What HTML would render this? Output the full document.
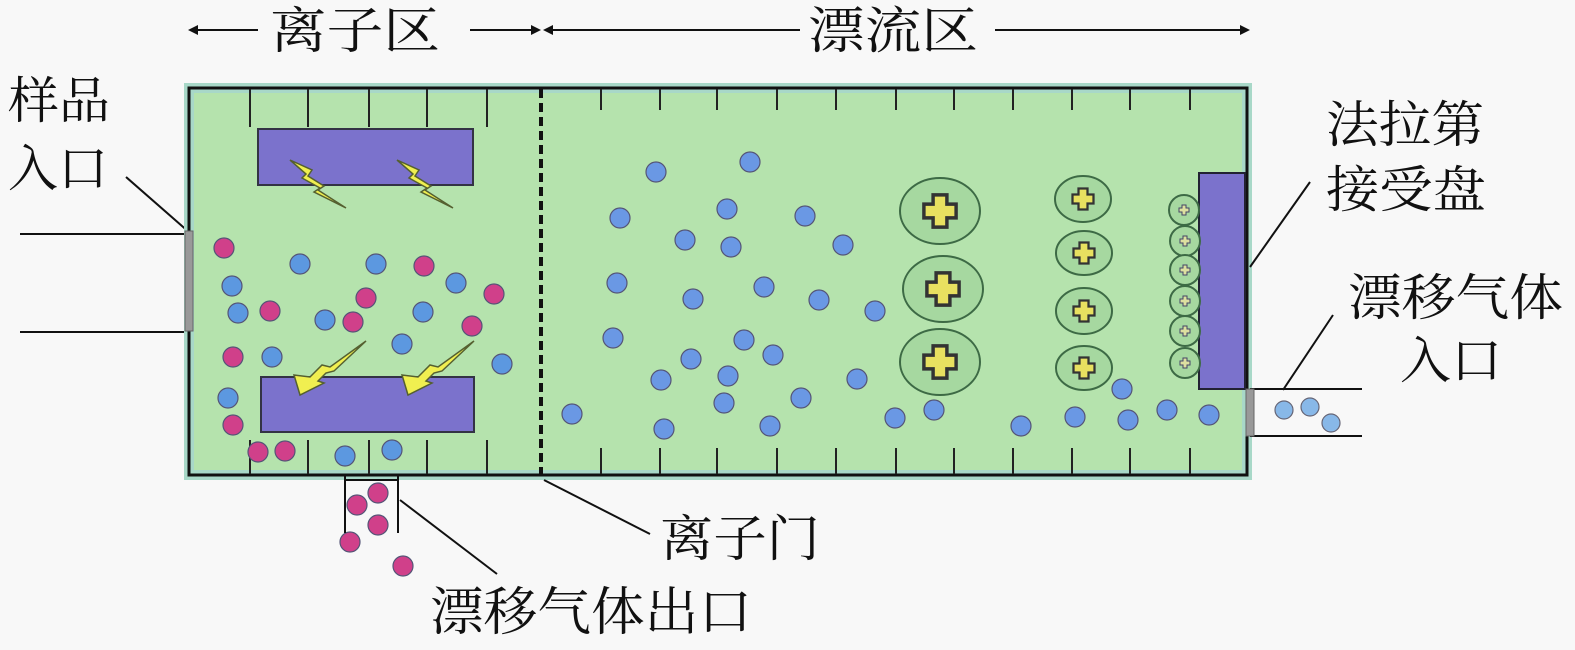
<!DOCTYPE html>
<html><head><meta charset="utf-8"><style>
html,body{margin:0;padding:0;background:#f8f8f8;}
svg{display:block;}
text{font-family:"Liberation Serif","Noto Serif CJK SC","Noto Sans CJK SC",serif;fill:#111;}
</style></head><body>
<svg width="1575" height="650" viewBox="0 0 1575 650" xmlns="http://www.w3.org/2000/svg">
<defs>
<g id="bp"><path d="M-7,-3h4v-4h6v4h4v6h-4v4h-6v-4h-4z" fill="#e8e060" stroke="#333" stroke-width="1.5"/></g>
<g id="sp"><path d="M-5,-2h3v-3h4v3h3v4h-3v3h-4v-3h-3z" fill="#dde0a0" stroke="#446" stroke-width="1"/></g>
<g id="bolt"><path d="M0,0 L22,10 L18,16 L34,26 L28,30 L56,48 L24,32 L30,28 L12,18 L16,14 Z" fill="#f0ef50" stroke="#556030" stroke-width="1.5"/></g>
<g id="boltu"><path d="M0,0 L-6,-20 L10,-18 L22,-30 L30,-28 L66,-54 L34,-24 L26,-22 L18,-14 L24,-12 Z" fill="#f0ef50" stroke="#556030" stroke-width="1.5"/></g>
</defs>

<!-- top labels -->
<line x1="196" y1="30" x2="258" y2="30" stroke="#111" stroke-width="2"/>
<path d="M188,30 l10,-5 v10z" fill="#111"/>
<line x1="470" y1="30" x2="535" y2="30" stroke="#111" stroke-width="2"/>
<path d="M541,30 l-10,-5 v10z" fill="#111"/>
<line x1="550" y1="30" x2="800" y2="30" stroke="#111" stroke-width="2"/>
<path d="M543,30 l10,-5 v10z" fill="#111"/>
<line x1="995" y1="30" x2="1242" y2="30" stroke="#111" stroke-width="2"/>
<path d="M1250,30 l-10,-5 v10z" fill="#111"/>
<text x="270" y="48" font-size="50" textLength="170" lengthAdjust="spacingAndGlyphs">离子区</text>
<text x="808" y="48" font-size="50" textLength="170" lengthAdjust="spacingAndGlyphs">漂流区</text>

<!-- left inlet -->
<text x="8" y="118" font-size="50" textLength="102" lengthAdjust="spacingAndGlyphs">样品</text>
<text x="8" y="186" font-size="50" textLength="100" lengthAdjust="spacingAndGlyphs">入口</text>
<line x1="126" y1="177" x2="190" y2="233" stroke="#111" stroke-width="2"/>
<line x1="20" y1="234" x2="188" y2="234" stroke="#111" stroke-width="2"/>
<line x1="20" y1="332" x2="188" y2="332" stroke="#111" stroke-width="2"/>

<!-- main box -->
<rect x="189" y="88" width="1058" height="387" fill="#b5e3ad"/>
<rect x="189" y="88" width="1058" height="387" fill="none" stroke="#a8d8c8" stroke-width="10"/>
<rect x="189" y="88" width="1058" height="387" fill="none" stroke="#111" stroke-width="3"/>
<rect x="185" y="231" width="8" height="100" fill="#999" stroke="#666"/>
<!-- ticks top -->
<g stroke="#222" stroke-width="2">
<line x1="250" y1="89" x2="250" y2="127"/><line x1="308" y1="89" x2="308" y2="127"/><line x1="369" y1="89" x2="369" y2="127"/><line x1="427" y1="89" x2="427" y2="127"/><line x1="487" y1="89" x2="487" y2="127"/>
<line x1="601" y1="89" x2="601" y2="110"/><line x1="660" y1="89" x2="660" y2="110"/><line x1="717" y1="89" x2="717" y2="110"/><line x1="777" y1="89" x2="777" y2="110"/><line x1="836" y1="89" x2="836" y2="110"/><line x1="896" y1="89" x2="896" y2="110"/><line x1="954" y1="89" x2="954" y2="110"/><line x1="1013" y1="89" x2="1013" y2="110"/><line x1="1072" y1="89" x2="1072" y2="110"/><line x1="1130" y1="89" x2="1130" y2="110"/><line x1="1190" y1="89" x2="1190" y2="110"/>
<line x1="250" y1="440" x2="250" y2="474"/><line x1="308" y1="440" x2="308" y2="474"/><line x1="369" y1="440" x2="369" y2="474"/><line x1="427" y1="440" x2="427" y2="474"/><line x1="487" y1="440" x2="487" y2="474"/>
<line x1="601" y1="448" x2="601" y2="474"/><line x1="660" y1="448" x2="660" y2="474"/><line x1="717" y1="448" x2="717" y2="474"/><line x1="777" y1="448" x2="777" y2="474"/><line x1="836" y1="448" x2="836" y2="474"/><line x1="896" y1="448" x2="896" y2="474"/><line x1="954" y1="448" x2="954" y2="474"/><line x1="1013" y1="448" x2="1013" y2="474"/><line x1="1072" y1="448" x2="1072" y2="474"/><line x1="1130" y1="448" x2="1130" y2="474"/><line x1="1190" y1="448" x2="1190" y2="474"/>
</g>
<line x1="541" y1="89" x2="541" y2="474" stroke="#111" stroke-width="4" stroke-dasharray="9,5"/>

<!-- purple plates -->
<rect x="258" y="129" width="215" height="56" fill="#7b72cc" stroke="#334" stroke-width="2"/>
<rect x="261" y="377" width="213" height="55" fill="#7b72cc" stroke="#334" stroke-width="2"/>
<rect x="1199" y="173" width="46" height="216" fill="#7b72cc" stroke="#223" stroke-width="2"/>

<!-- bolts -->
<use href="#bolt" x="290" y="160"/>
<use href="#bolt" x="397" y="160"/>
<use href="#boltu" x="300" y="395"/>
<use href="#boltu" x="408" y="395"/>

<!-- ion region dots -->
<g stroke="#557" stroke-width="1.2">
<g fill="#d0408a">
<circle cx="224" cy="248" r="10"/><circle cx="424" cy="266" r="10"/><circle cx="494" cy="294" r="10"/><circle cx="270" cy="311" r="10"/><circle cx="366" cy="298" r="10"/><circle cx="353" cy="322" r="10"/><circle cx="472" cy="326" r="10"/><circle cx="233" cy="357" r="10"/><circle cx="233" cy="425" r="10"/><circle cx="258" cy="452" r="10"/><circle cx="285" cy="451" r="10"/>
<circle cx="378" cy="493" r="10"/><circle cx="357" cy="505" r="10"/><circle cx="378" cy="525" r="10"/><circle cx="350" cy="542" r="10"/><circle cx="403" cy="566" r="10"/>
</g>
<g fill="#5c98e0">
<circle cx="300" cy="264" r="10"/><circle cx="376" cy="264" r="10"/><circle cx="456" cy="283" r="10"/><circle cx="232" cy="286" r="10"/><circle cx="238" cy="313" r="10"/><circle cx="325" cy="320" r="10"/><circle cx="423" cy="312" r="10"/><circle cx="402" cy="344" r="10"/><circle cx="502" cy="364" r="10"/><circle cx="272" cy="357" r="10"/><circle cx="228" cy="398" r="10"/><circle cx="345" cy="456" r="10"/><circle cx="392" cy="450" r="10"/>
</g>
<!-- drift dots -->
<g fill="#6a98e4">
<circle cx="656" cy="172" r="10"/><circle cx="750" cy="162" r="10"/><circle cx="620" cy="218" r="10"/><circle cx="727" cy="209" r="10"/><circle cx="805" cy="216" r="10"/><circle cx="685" cy="240" r="10"/><circle cx="731" cy="247" r="10"/><circle cx="843" cy="245" r="10"/><circle cx="617" cy="283" r="10"/><circle cx="693" cy="299" r="10"/><circle cx="764" cy="287" r="10"/><circle cx="819" cy="300" r="10"/><circle cx="875" cy="311" r="10"/><circle cx="613" cy="338" r="10"/><circle cx="691" cy="359" r="10"/><circle cx="744" cy="340" r="10"/><circle cx="773" cy="355" r="10"/><circle cx="661" cy="380" r="10"/><circle cx="728" cy="376" r="10"/><circle cx="857" cy="379" r="10"/><circle cx="801" cy="398" r="10"/><circle cx="724" cy="403" r="10"/><circle cx="572" cy="414" r="10"/><circle cx="664" cy="429" r="10"/><circle cx="770" cy="426" r="10"/><circle cx="895" cy="418" r="10"/><circle cx="934" cy="410" r="10"/><circle cx="1021" cy="426" r="10"/><circle cx="1075" cy="417" r="10"/><circle cx="1122" cy="389" r="10"/><circle cx="1128" cy="420" r="10"/><circle cx="1167" cy="410" r="10"/><circle cx="1209" cy="415" r="10"/>
</g>
</g>

<!-- ion clusters -->
<g fill="#a6d8a0" stroke="#3d6a45" stroke-width="2">
<ellipse cx="940" cy="211" rx="40" ry="33"/><ellipse cx="943" cy="289" rx="40" ry="33"/><ellipse cx="940" cy="362" rx="40" ry="33"/>
<ellipse cx="1083" cy="199" rx="28" ry="23"/><ellipse cx="1084" cy="253" rx="28" ry="22"/><ellipse cx="1084" cy="311" rx="28" ry="23"/><ellipse cx="1084" cy="368" rx="28" ry="22"/>
<circle cx="1184" cy="210" r="15"/><circle cx="1185" cy="241" r="15"/><circle cx="1185" cy="270" r="15"/><circle cx="1185" cy="301" r="15"/><circle cx="1185" cy="331" r="15"/><circle cx="1185" cy="363" r="15"/>
</g>
<g transform="translate(940,211) scale(2.3)"><use href="#bp"/></g>
<g transform="translate(943,289) scale(2.3)"><use href="#bp"/></g>
<g transform="translate(940,362) scale(2.3)"><use href="#bp"/></g>
<g transform="translate(1083,199) scale(1.5)"><use href="#bp"/></g>
<g transform="translate(1084,253) scale(1.5)"><use href="#bp"/></g>
<g transform="translate(1084,311) scale(1.5)"><use href="#bp"/></g>
<g transform="translate(1084,368) scale(1.5)"><use href="#bp"/></g>
<use href="#sp" x="1184" y="210"/><use href="#sp" x="1185" y="241"/><use href="#sp" x="1185" y="270"/><use href="#sp" x="1185" y="301"/><use href="#sp" x="1185" y="331"/><use href="#sp" x="1185" y="363"/>

<!-- right inlet -->
<line x1="1250" y1="389" x2="1362" y2="389" stroke="#111" stroke-width="2"/>
<line x1="1250" y1="436" x2="1362" y2="436" stroke="#111" stroke-width="2"/>
<rect x="1246" y="389" width="8" height="47" fill="#999" stroke="#666"/>
<g fill="#88b8e8" stroke="#667" stroke-width="1.2">
<circle cx="1284" cy="410" r="9"/><circle cx="1310" cy="407" r="9"/><circle cx="1331" cy="423" r="9"/>
</g>
<line x1="1250" y1="267" x2="1310" y2="182" stroke="#111" stroke-width="2"/>
<line x1="1283" y1="390" x2="1333" y2="315" stroke="#111" stroke-width="2"/>
<text x="1326" y="142" font-size="50" textLength="158" lengthAdjust="spacingAndGlyphs">法拉第</text>
<text x="1326" y="207" font-size="50" textLength="160" lengthAdjust="spacingAndGlyphs">接受盘</text>
<text x="1348" y="315" font-size="50" textLength="215" lengthAdjust="spacingAndGlyphs">漂移气体</text>
<text x="1400" y="378" font-size="50" textLength="102" lengthAdjust="spacingAndGlyphs">入口</text>

<!-- bottom -->
<path d="M345,476 V533 M398,476 V533 M345,480 H398" stroke="#111" stroke-width="2" fill="none"/>
<line x1="400" y1="500" x2="497" y2="574" stroke="#111" stroke-width="2"/>
<line x1="544" y1="480" x2="650" y2="534" stroke="#111" stroke-width="2"/>
<text x="660" y="556" font-size="50" textLength="160" lengthAdjust="spacingAndGlyphs">离子门</text>
<text x="430" y="630" font-size="52" textLength="322" lengthAdjust="spacingAndGlyphs">漂移气体出口</text>
</svg>
</body></html>
